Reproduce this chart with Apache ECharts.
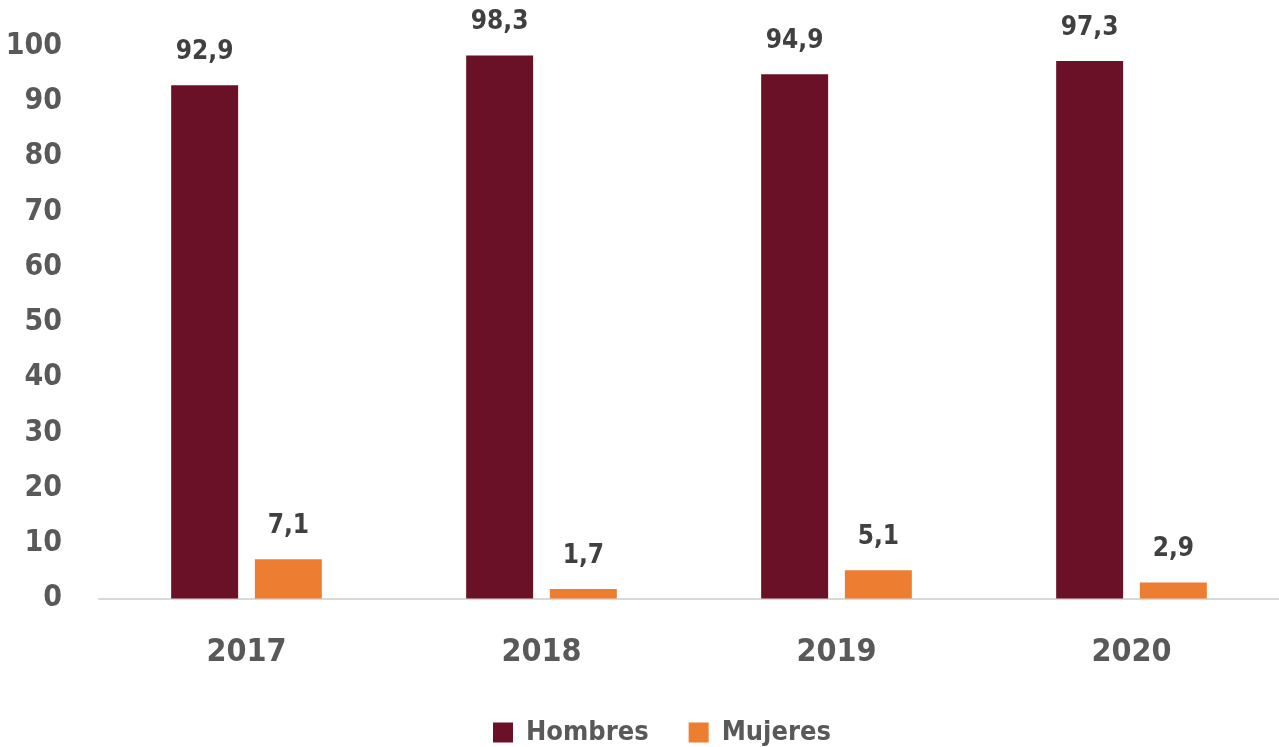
<!DOCTYPE html>
<html>
<head>
<meta charset="utf-8">
<script src="https://cdn.jsdelivr.net/npm/echarts@6/dist/echarts.min.js"></script>
<style>
  html, body { margin: 0; padding: 0; background: #ffffff; }
  #chart { width: 1279px; height: 747px; }
</style>
</head>
<body>
<div id="chart"></div>
<script>
// Years on the category axis
const years = ['2017', '2018', '2019', '2020'];
// Percentages per group
const hombres = [92.9, 98.3, 94.9, 97.3];
const mujeres = [7.1, 1.7, 5.1, 2.9];
// Value axis range and step
const yMin = 0;
const yMax = 100;
const yStep = 10;

const FONT = "'Liberation Sans Narrow', 'DejaVu Sans Condensed', 'Arial Narrow', sans-serif";
const fmt = v => v.value.toFixed(1).replace('.', ',');

const chart = echarts.init(document.getElementById('chart'), null, { renderer: 'canvas' });

const labelStyle = {
  show: true,
  position: 'top',
  distance: 20,
  formatter: fmt,
  color: '#404040',
  fontFamily: FONT,
  fontWeight: 'bold',
  fontSize: 26
};

chart.setOption({
  animation: false,
  backgroundColor: '#ffffff',
  grid: { left: 99, right: 0, top: 46, bottom: 148.5, containLabel: false, outerBoundsMode: 'none' },
  legend: {
    left: 488,
    top: 714,
    itemWidth: 20,
    itemHeight: 20,
    itemGap: 40,
    icon: 'rect',
    textStyle: { color: '#595959', fontFamily: FONT, fontWeight: 'bold', fontSize: 27, padding: [0, 0, 0, 8] },
    data: ['Hombres', 'Mujeres']
  },
  xAxis: {
    type: 'category',
    data: years,
    axisLine: { lineStyle: { color: '#d9d9d9', width: 2 } },
    axisTick: { show: false },
    axisLabel: { color: '#595959', fontFamily: FONT, fontWeight: 'bold', fontSize: 32, margin: 38 }
  },
  yAxis: {
    type: 'value',
    min: yMin,
    max: yMax,
    interval: yStep,
    axisLine: { show: false },
    axisTick: { show: false },
    splitLine: { show: false },
    axisLabel: { color: '#595959', fontFamily: FONT, fontWeight: 'bold', fontSize: 30, margin: 37 }
  },
  series: [
    {
      name: 'Hombres',
      type: 'bar',
      data: hombres,
      barWidth: '22.7%',
      barGap: '25%',
      itemStyle: { color: '#6b1127' },
      label: labelStyle
    },
    {
      name: 'Mujeres',
      type: 'bar',
      data: mujeres,
      barWidth: '22.7%',
      itemStyle: { color: '#ed7d31' },
      label: labelStyle
    }
  ]
});
</script>
</body>
</html>
